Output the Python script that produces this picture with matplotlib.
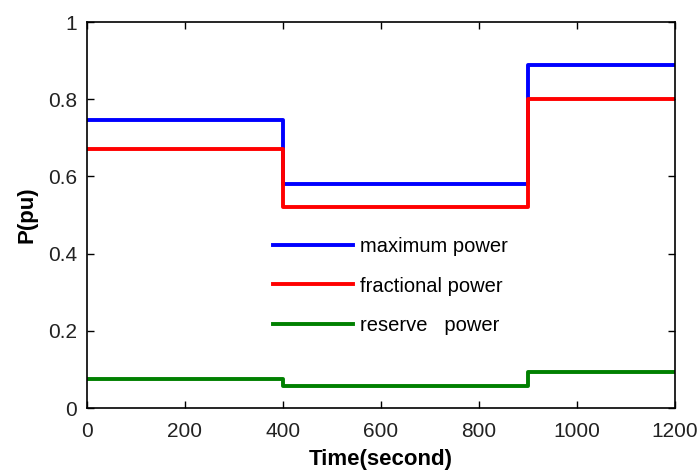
import matplotlib
matplotlib.use("Agg")
import matplotlib.pyplot as plt

# step data: time breakpoints and levels
t = [0, 400, 900, 1200]
maximum_power = [0.746, 0.580, 0.888, 0.888]
fractional_power = [0.670, 0.522, 0.801, 0.801]
reserve_power = [0.076, 0.058, 0.092, 0.092]

xticks = [0, 200, 400, 600, 800, 1000, 1200]
yticks = [0, 0.2, 0.4, 0.6, 0.8, 1]

plt.rcParams['font.family'] = ['Liberation Sans', 'DejaVu Sans']

fig = plt.figure(figsize=(6.98, 4.73), dpi=100)
ax = fig.add_axes([87/698, 1-408/473, (675-87)/698, (408-22)/473])

ax.plot(t, maximum_power, drawstyle='steps-post', color='#0000ff', lw=2.8, label='maximum power')
ax.plot(t, fractional_power, drawstyle='steps-post', color='#ff0000', lw=2.8, label='fractional power')
ax.plot(t, reserve_power, drawstyle='steps-post', color='#008000', lw=2.8, label='reserve   power')

ax.set_xlim(0, 1200)
ax.set_ylim(0, 1)
ax.set_xticks(xticks)
ax.set_xticklabels([str(v) for v in xticks])
ax.set_yticks(yticks)
ax.set_yticklabels(['0', '0.2', '0.4', '0.6', '0.8', '1'])
ax.tick_params(direction='in', top=True, right=True, labelsize=15, length=5, width=1,
               colors='black', labelcolor='#222222')
ax.tick_params(axis='x', pad=10)
ax.tick_params(axis='y', pad=7)
for s in ax.spines.values():
    s.set_linewidth(1.2)

ax.set_xlabel('Time(second)', fontsize=16, fontweight='bold', labelpad=6)
ax.set_ylabel('P(pu)', fontsize=16, fontweight='bold', labelpad=8)

leg = ax.legend(loc='upper left', bbox_to_anchor=(0.316, 0.442), frameon=False,
                fontsize=14.5, handlelength=4.0, handletextpad=0.35, labelspacing=1.0,
                borderpad=0, borderaxespad=0)

fig.savefig('out.png', dpi=100)
